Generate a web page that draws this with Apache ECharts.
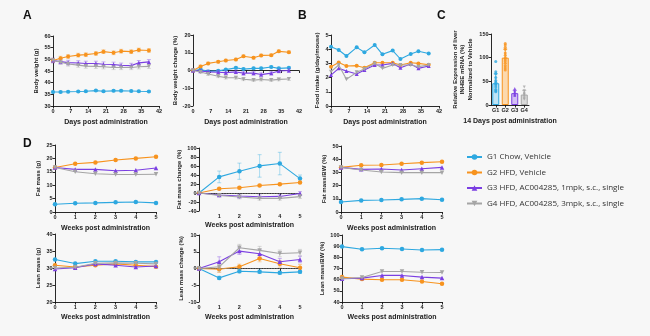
<!DOCTYPE html>
<html>
<head>
<meta charset="utf-8">
<script src="https://cdn.jsdelivr.net/npm/echarts@6/dist/echarts.min.js"></script>
<style>
html,body{margin:0;padding:0;background:#f7f7f7;}
#chart{width:650px;height:336px;}
</style>
</head>
<body>
<div id="chart"></div>
<script>
// Groups
const groupNames = [
  'G1 Chow, Vehicle',
  'G2 HFD, Vehicle',
  'G3 HFD, AC004285, 1mpk, s.c., single',
  'G4 HFD, AC004285, 3mpk, s.c., single'
];
const groupColors = ['#2EA8E0', '#F7931E', '#7B3FE2', '#A5A5A5'];
const groupSymbols = ['circle', 'circle', 'triangle', 'path://M0,0L10,0L5,8.7Z'];

// Time points
const days = [0, 3, 6, 10, 13, 17, 20, 24, 27, 31, 34, 38];
const weeks = [0, 1, 2, 3, 4, 5];

// A: body weight (g), one row per group
const bodyWeight = [
  [36.0, 36.0, 36.1, 36.2, 36.3, 36.6, 36.3, 36.5, 36.5, 36.4, 36.3, 36.2],
  [49.5, 50.5, 51.2, 51.8, 52.0, 52.5, 53.3, 52.8, 53.5, 53.3, 54.0, 53.8],
  [49.5, 49.0, 48.6, 48.4, 48.2, 48.2, 47.9, 47.8, 47.4, 47.3, 48.5, 48.9],
  [49.5, 48.8, 48.0, 47.5, 47.1, 47.0, 46.8, 46.5, 46.5, 46.5, 46.8, 47.0]
];
const bodyWeightSem = [0.4, 0.8, 1.0, 0.9];

// A: body weight change (%)
const bodyWeightChange = [
  [0, 0.5, -0.5, -0.2, 0.5, 1.5, 0.8, 1.2, 1.2, 2.0, 1.2, 1.5],
  [0, 2.3, 4.0, 4.9, 5.6, 6.2, 8.0, 7.2, 8.5, 8.6, 10.8, 10.3],
  [0, -0.3, -0.8, -1.0, -1.2, -0.8, -1.5, -1.5, -2.3, -1.5, -0.3, 0.0],
  [0, -0.8, -2.0, -3.2, -4.0, -4.1, -4.9, -5.4, -5.1, -5.4, -5.0, -4.8]
];
const bodyWeightChangeSem = [0.6, 0.7, 1.0, 0.8];

// B: food intake (g/day/mouse)
const foodIntake = [
  [4.18, 3.94, 3.52, 4.13, 3.78, 4.30, 3.64, 3.90, 3.31, 3.66, 3.85, 3.70],
  [2.77, 3.07, 2.82, 2.84, 2.70, 3.05, 3.05, 3.05, 2.89, 3.05, 3.00, 2.90],
  [2.18, 2.65, 2.46, 2.25, 2.54, 2.89, 2.89, 3.00, 2.70, 2.96, 2.65, 2.82],
  [2.42, 2.89, 1.88, 2.37, 2.60, 3.00, 2.65, 2.89, 2.89, 2.89, 2.77, 2.89]
];

// C: relative liver mRNA expression (%), day 14
const exprGroups = ['G1', 'G2', 'G3', 'G4'];
const exprMeans = [46, 100, 25, 22];
const exprSd = [20, 18, 6, 9];
const exprPoints = [
  [92, 70, 66, 58, 52, 48, 45, 42, 38, 33, 30, 28],
  [130, 127, 122, 118, 110, 105, 100, 97, 93, 88, 83, 78, 74],
  [35, 30, 27, 25, 22, 20],
  [38, 30, 25, 22, 19, 15, 12]
];

// D: body composition by week
const fatMass = [
  [2.9, 3.25, 3.4, 3.6, 3.75, 3.4],
  [16.6, 18.0, 18.5, 19.4, 20.0, 20.6],
  [16.6, 15.9, 15.9, 15.4, 15.6, 16.4],
  [16.6, 15.0, 14.3, 14.0, 14.0, 14.1]
];
const fatMassChange = [
  [0, 35.8, 48.4, 60.2, 65.4, 32.0],
  [0, 9.4, 11.6, 16.7, 19.7, 23.3],
  [0, -4.6, -6.8, -8.3, -7.6, -1.0],
  [0, -5.5, -9.0, -12.0, -12.0, -8.0]
];
const fatMassChangeSem = [
  [0, 13, 18, 25, 25, 8],
  [0, 2, 2, 2, 2, 2],
  [0, 3, 3, 4, 4, 4],
  [0, 3, 4, 4, 4, 4]
];
const fatMassBw = [
  [7.6, 8.8, 9.1, 9.6, 10.1, 9.3],
  [33.8, 35.4, 35.6, 36.6, 37.4, 38.1],
  [33.8, 32.3, 32.6, 31.8, 32.8, 33.8],
  [33.8, 31.8, 30.3, 29.8, 29.8, 29.8]
];
const leanMass = [
  [32.5, 31.3, 32.0, 32.0, 31.8, 31.8],
  [30.8, 30.3, 30.8, 31.2, 30.8, 30.4],
  [29.7, 30.1, 31.2, 30.8, 30.3, 30.6],
  [30.0, 30.2, 31.4, 31.5, 31.4, 31.2]
];
const leanMassChange = [
  [0, -2.8, -0.8, -1.0, -1.3, -1.0],
  [0, -0.2, 0.5, 3.0, 1.4, 0.2],
  [0, 2.0, 5.2, 4.4, 2.0, 2.7],
  [0, 0.5, 6.2, 5.4, 4.5, 4.7]
];
const leanMassChangeSem = [
  [0, 0.5, 0.5, 0.5, 0.5, 0.5],
  [0, 1.0, 0.8, 1.0, 1.0, 1.0],
  [0, 1.5, 1.0, 1.2, 1.0, 1.0],
  [0, 1.5, 1.0, 1.2, 1.0, 1.0]
];
const leanMassBw = [
  [89.6, 87.2, 88.1, 87.5, 86.6, 86.9],
  [62.3, 60.5, 59.9, 59.9, 58.4, 56.3],
  [60.8, 61.4, 63.8, 63.8, 62.3, 61.4],
  [60.8, 62.0, 67.3, 67.3, 66.7, 66.4]
];

// ---------- styling helpers ----------
const AX_FONT = 'Liberation Sans';
const tickLabel = {
  fontSize: 5.5, fontWeight: 'bold', color: '#222', fontFamily: AX_FONT, margin: 2.5,
  showMinLabel: true, showMaxLabel: true, hideOverlap: false
};
const axisLine = { show: true, lineStyle: { color: '#111', width: 0.9 } };
const axisTick = { show: true, length: 2.5, lineStyle: { color: '#111', width: 0.9 } };

function xAxisCfg(grid, min, max, interval, name, gap, extra) {
  return Object.assign({
    type: 'value', gridIndex: grid, min, max, interval,
    name, nameLocation: 'middle', nameGap: gap,
    nameTextStyle: { fontSize: 7, fontWeight: 'bold', color: '#222', fontFamily: AX_FONT },
    axisLine, axisTick, axisLabel: Object.assign({}, tickLabel),
    splitLine: { show: false }
  }, extra || {});
}
function yAxisCfg(grid, min, max, interval, name, gap, extra) {
  return Object.assign({
    type: 'value', gridIndex: grid, min, max, interval,
    name, nameLocation: 'middle', nameGap: gap,
    nameTextStyle: { fontSize: 6, fontWeight: 'bold', color: '#222', fontFamily: AX_FONT, lineHeight: 7.5 },
    axisLine, axisTick, axisLabel: Object.assign({}, tickLabel),
    splitLine: { show: false }
  }, extra || {});
}

function lineSeries(gi, axis, xs, ys, size) {
  return {
    type: 'line', name: groupNames[gi], xAxisIndex: axis, yAxisIndex: axis,
    data: xs.map((x, i) => [x, ys[i]]),
    symbol: groupSymbols[gi], symbolSize: size || 4.5,
    itemStyle: { color: groupColors[gi] },
    lineStyle: { color: groupColors[gi], width: 1.1 },
    z: 3 + gi, silent: true
  };
}

function errorSeries(gi, axis, xs, ys, errs) {
  return {
    type: 'custom', xAxisIndex: axis, yAxisIndex: axis, silent: true, z: 2 + gi,
    data: xs.map((x, i) => [x, ys[i], Array.isArray(errs) ? errs[i] : errs]),
    renderItem: function (params, api) {
      const x = api.value(0), y = api.value(1), e = api.value(2);
      if (!e) return null;
      const hi = api.coord([x, y + e]);
      const lo = api.coord([x, y - e]);
      const w = 2;
      const st = { stroke: groupColors[gi], lineWidth: 0.7, opacity: 0.55 };
      return {
        type: 'group', children: [
          { type: 'line', shape: { x1: hi[0], y1: hi[1], x2: lo[0], y2: lo[1] }, style: st },
          { type: 'line', shape: { x1: hi[0] - w, y1: hi[1], x2: hi[0] + w, y2: hi[1] }, style: st },
          { type: 'line', shape: { x1: lo[0] - w, y1: lo[1], x2: lo[0] + w, y2: lo[1] }, style: st }
        ]
      };
    }
  };
}

function zeroLine() {
  return {
    silent: true, symbol: 'none', label: { show: false },
    lineStyle: { type: 'dotted', color: '#888', width: 0.8 },
    data: [{ yAxis: 0 }]
  };
}

// ---------- grids ----------
const grids = [
  { left: 53, top: 36, width: 106, height: 70 },   // 0 body weight
  { left: 193, top: 35, width: 106, height: 71 },  // 1 body weight change
  { left: 331, top: 35, width: 108, height: 71 },  // 2 food intake
  { left: 491, top: 34, width: 38, height: 71 },   // 3 liver mRNA
  { left: 55, top: 145, width: 101, height: 67 },  // 4 fat mass
  { left: 199, top: 148, width: 101, height: 63 }, // 5 fat mass change
  { left: 341, top: 146, width: 101, height: 66 }, // 6 fat mass / BW
  { left: 55, top: 234, width: 101, height: 68 },  // 7 lean mass
  { left: 199, top: 235, width: 101, height: 67 }, // 8 lean mass change
  { left: 342, top: 235, width: 100, height: 67 }  // 9 lean mass / BW
];

const xAxes = [
  xAxisCfg(0, 0, 42, 7, 'Days post administration', 12.5),
  xAxisCfg(1, 0, 42, 7, 'Days post administration', 12.5),
  xAxisCfg(2, 0, 42, 7, 'Days post administration', 12.5),
  {
    type: 'category', gridIndex: 3, data: exprGroups,
    name: '14 Days post administration', nameLocation: 'middle', nameGap: 12.5,
    nameTextStyle: { fontSize: 7, fontWeight: 'bold', color: '#222', fontFamily: AX_FONT },
    axisLine, axisTick: Object.assign({}, axisTick, { alignWithLabel: true, interval: 0 }),
    axisLabel: Object.assign({}, tickLabel, { interval: 0 })
  },
  xAxisCfg(4, 0, 5, 1, 'Weeks post administration', 13),
  xAxisCfg(5, 0, 5, 1, 'Weeks post administration', 11, {
    axisLabel: Object.assign({}, tickLabel, { formatter: v => (v === 0 ? '' : String(v)) })
  }),
  xAxisCfg(6, 0, 5, 1, 'Weeks post administration', 12.5),
  xAxisCfg(7, 0, 5, 1, 'Weeks post administration', 12),
  xAxisCfg(8, 0, 5, 1, 'Weeks post administration', 12),
  xAxisCfg(9, 0, 5, 1, 'Weeks post administration', 12)
];

const yAxes = [
  yAxisCfg(0, 30, 60, 5, 'Body weight (g)', 13),
  yAxisCfg(1, -20, 20, 10, 'Body weight change (%)', 13),
  yAxisCfg(2, 0, 5, 1, 'Food intake (g/day/mouse)', 9),
  yAxisCfg(3, 0, 150, 50, 'Relative Expression of liver\nINHBE mRNA (%)\nNormalized to Vehicle', 17),
  yAxisCfg(4, 0, 25, 5, 'Fat mass (g)', 10),
  yAxisCfg(5, -40, 100, 20, 'Fat mass change (%)', 13),
  yAxisCfg(6, 0, 50, 10, 'Fat mass/BW (%)', 12),
  yAxisCfg(7, 20, 40, 5, 'Lean mass (g)', 10),
  yAxisCfg(8, -10, 10, 5, 'Lean mass change (%)', 13),
  yAxisCfg(9, 40, 100, 10, 'Lean mass/BW (%)', 13)
];

// ---------- series ----------
const series = [];
for (let g = 0; g < 4; g++) {
  series.push(errorSeries(g, 0, days, bodyWeight[g], bodyWeightSem[g]));
  series.push(lineSeries(g, 0, days, bodyWeight[g], 4));
  series.push(errorSeries(g, 1, days, bodyWeightChange[g], bodyWeightChangeSem[g]));
  series.push(lineSeries(g, 1, days, bodyWeightChange[g], 4));
  series.push(lineSeries(g, 2, days, foodIntake[g], 4));
  series.push(lineSeries(g, 4, weeks, fatMass[g]));
  series.push(errorSeries(g, 5, weeks, fatMassChange[g], fatMassChangeSem[g]));
  const fmc = lineSeries(g, 5, weeks, fatMassChange[g]);
  if (g === 0) fmc.markLine = zeroLine();
  series.push(fmc);
  series.push(lineSeries(g, 6, weeks, fatMassBw[g]));
  series.push(lineSeries(g, 7, weeks, leanMass[g]));
  series.push(errorSeries(g, 8, weeks, leanMassChange[g], leanMassChangeSem[g]));
  const lmc = lineSeries(g, 8, weeks, leanMassChange[g]);
  if (g === 0) lmc.markLine = zeroLine();
  series.push(lmc);
  series.push(lineSeries(g, 9, weeks, leanMassBw[g]));
}

// C: bars with SD and individual animals
const tint = ['#BFE4F6', '#FCD9AE', '#D3BFF5', '#DADADA'];
series.push({
  type: 'bar', xAxisIndex: 3, yAxisIndex: 3, barWidth: 7, silent: true, z: 2,
  data: exprMeans.map((v, i) => ({
    value: v,
    itemStyle: { color: tint[i], borderColor: groupColors[i], borderWidth: 1 }
  }))
});
series.push({
  type: 'custom', xAxisIndex: 3, yAxisIndex: 3, silent: true, z: 3,
  data: exprMeans.map((v, i) => [i, v, exprSd[i]]),
  renderItem: function (params, api) {
    const i = api.value(0), m = api.value(1), s = api.value(2);
    const hi = api.coord([i, m + s]);
    const mid = api.coord([i, m]);
    const st = { stroke: groupColors[i], lineWidth: 0.8 };
    return {
      type: 'group', children: [
        { type: 'line', shape: { x1: hi[0], y1: hi[1], x2: mid[0], y2: mid[1] }, style: st },
        { type: 'line', shape: { x1: hi[0] - 2, y1: hi[1], x2: hi[0] + 2, y2: hi[1] }, style: st }
      ]
    };
  }
});
for (let g = 0; g < 4; g++) {
  series.push({
    type: 'scatter', xAxisIndex: 3, yAxisIndex: 3, silent: true, z: 4,
    symbol: groupSymbols[g], symbolSize: 3,
    itemStyle: { color: groupColors[g] },
    data: exprPoints[g].map(v => [exprGroups[g], v])
  });
}

// ---------- panel letters ----------
const letters = [['A', 23, 10], ['B', 298, 10], ['C', 437, 10], ['D', 23, 138]];
const graphic = letters.map(([t, x, y]) => ({
  type: 'text', left: x, top: y,
  style: { text: t, fontSize: 12, fontWeight: 'bold', fill: '#111', fontFamily: AX_FONT }
}));

const chart = echarts.init(document.getElementById('chart'), null, { renderer: 'canvas' });
chart.setOption({
  backgroundColor: '#f7f7f7',
  animation: false,
  grid: grids,
  xAxis: xAxes,
  yAxis: yAxes,
  series,
  graphic,
  legend: {
    orient: 'vertical', left: 461, top: 148,
    itemWidth: 15, itemHeight: 7, itemGap: 7.5,
    selectedMode: false,
    data: groupNames,
    textStyle: { fontSize: 8, color: '#333', fontFamily: 'Open Sans', padding: [0, 0, 0, 0] }
  }
});
</script>
</body>
</html>
